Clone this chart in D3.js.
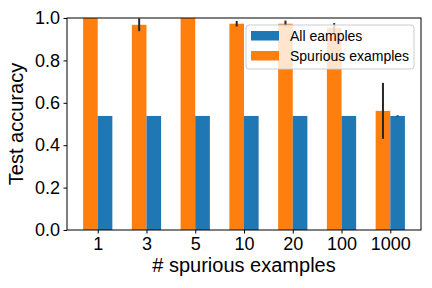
<!DOCTYPE html>
<html>
  <head>
    <meta charset="utf-8" />
    <script src="https://d3js.org/d3.v7.min.js"></script>
    <style>
      body { margin: 0; background: #fff; }
      svg { font-family: "Liberation Sans", Arial, Helvetica, sans-serif; }
      .tick text { font-size: 18px; fill: #000; }
      .tick line { stroke: #000; }
      .domain { display: none; }
    </style>
  </head>
  <body>

    <svg id="chart" width="432" height="288"></svg>

    <script>

      var categories = ["1", "3", "5", "10", "20", "100", "1000"];
      var allValues = [0.538, 0.538, 0.538, 0.538, 0.538, 0.538, 0.538];
      var allErrors = [0, 0, 0, 0, 0, 0, 0.003];
      var spuriousValues = [1.0, 0.968, 1.0, 0.973, 0.973, 0.954, 0.562];
      var spuriousErrors = [0, 0.03, 0, 0.013, 0.015, 0.022, 0.132];
      var yTicks = [0, 0.2, 0.4, 0.6, 0.8, 1.0];
      var legendLabels = ["All eamples", "Spurious examples"];

      var blue = "#1f77b4";
      var orange = "#ff7f0e";
      var barWidth = 0.3;

      var margin = { left: 67, right: 11, top: 18, bottom: 58 };
      var width = 432, height = 288;

      var svg = d3.select("#chart");

      var x = d3.scaleLinear()
        .domain([-0.63, 6.63])
        .range([margin.left, width - margin.right]);

      var y = d3.scaleLinear()
        .domain([0, 1])
        .range([height - margin.bottom, margin.top]);

      svg.append("clipPath").attr("id", "plotclip")
        .append("rect")
        .attr("x", margin.left)
        .attr("y", margin.top)
        .attr("width", width - margin.left - margin.right)
        .attr("height", height - margin.top - margin.bottom);

      var plot = svg.append("g").attr("clip-path", "url(#plotclip)");

      // orange bars sit left of the tick, blue bars right of it
      plot.selectAll(".spurious")
        .data(spuriousValues)
        .enter().append("rect")
        .attr("class", "spurious")
        .attr("x", function(d, i) { return x(i - barWidth); })
        .attr("y", function(d) { return y(d); })
        .attr("width", x(barWidth) - x(0))
        .attr("height", function(d) { return y(0) - y(d); })
        .attr("fill", orange);

      plot.selectAll(".all")
        .data(allValues)
        .enter().append("rect")
        .attr("class", "all")
        .attr("x", function(d, i) { return x(i); })
        .attr("y", function(d) { return y(d); })
        .attr("width", x(barWidth) - x(0))
        .attr("height", function(d) { return y(0) - y(d); })
        .attr("fill", blue);

      // error bars at bar centres
      function errorBars(values, errors, offset, cls) {
        plot.selectAll("." + cls)
          .data(values)
          .enter().append("line")
          .attr("class", cls)
          .attr("x1", function(d, i) { return x(i + offset); })
          .attr("x2", function(d, i) { return x(i + offset); })
          .attr("y1", function(d, i) { return y(d + errors[i]); })
          .attr("y2", function(d, i) { return y(d - errors[i]); })
          .attr("stroke", "#262626")
          .attr("stroke-width", 2);
      }
      errorBars(spuriousValues, spuriousErrors, -barWidth / 2, "err-spurious");
      errorBars(allValues, allErrors, barWidth / 2, "err-all");

      // axes
      var xAxis = svg.append("g")
        .attr("transform", "translate(0," + y(0) + ")")
        .call(d3.axisBottom(x)
          .tickValues(d3.range(categories.length))
          .tickFormat(function(d) { return categories[d]; })
          .tickSize(3.5)
          .tickPadding(3.5));

      var yAxis = svg.append("g")
        .attr("transform", "translate(" + margin.left + ",0)")
        .call(d3.axisLeft(y)
          .tickValues(yTicks)
          .tickFormat(d3.format(".1f"))
          .tickSize(3.5)
          .tickPadding(3.5));

      // spines
      svg.append("rect")
        .attr("x", margin.left)
        .attr("y", margin.top)
        .attr("width", width - margin.left - margin.right)
        .attr("height", height - margin.top - margin.bottom)
        .attr("fill", "none")
        .attr("stroke", "#000")
        .attr("stroke-width", 1);

      // axis labels
      svg.append("text")
        .attr("x", (margin.left + width - margin.right) / 2)
        .attr("y", 272)
        .attr("text-anchor", "middle")
        .attr("font-size", 20)
        .text("# spurious examples");

      svg.append("text")
        .attr("transform", "translate(23," + (margin.top + height - margin.bottom) / 2 + ") rotate(-90)")
        .attr("text-anchor", "middle")
        .attr("font-size", 20)
        .text("Test accuracy");

      // legend
      var legend = svg.append("g").attr("transform", "translate(246,25)");
      legend.append("rect")
        .attr("width", 168)
        .attr("height", 44)
        .attr("rx", 3)
        .attr("fill", "#fff")
        .attr("fill-opacity", 0.8)
        .attr("stroke", "#cccccc")
        .attr("stroke-width", 1);

      var items = legend.selectAll(".item")
        .data(legendLabels)
        .enter().append("g")
        .attr("class", "item")
        .attr("transform", function(d, i) { return "translate(5," + (6 + i * 20) + ")"; });

      items.append("rect")
        .attr("width", 28)
        .attr("height", 9.5)
        .attr("fill", function(d, i) { return i === 0 ? blue : orange; });

      items.append("text")
        .attr("x", 39)
        .attr("y", 10)
        .attr("font-size", 14)
        .text(function(d) { return d; });

    </script>

  </body>
</html>
